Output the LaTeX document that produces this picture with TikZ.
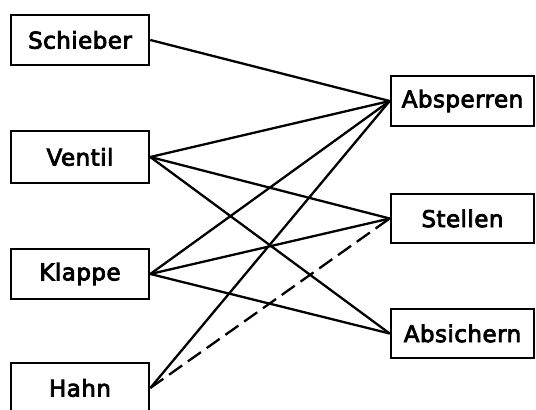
\documentclass[tikz,border=0pt]{standalone}
\usepackage{fontspec}
\setmainfont{DejaVu Sans}[FakeBold=3.5,LetterSpace=2]
\begin{document}
\begin{tikzpicture}[x=1pt,y=-1pt,
  box/.style={draw,line width=2.6pt,rectangle,inner sep=0pt,minimum height=50pt,font=\fontsize{23}{28}\selectfont},
  lbox/.style={box,minimum width=138pt},
  rbox/.style={box,minimum width=143pt},
  link/.style={line width=2.3pt},
  dlink/.style={link,dash pattern=on 16pt off 7pt}]
\useasboundingbox[fill=white] (0,0) rectangle (536,410);
\node[lbox] (schieber) at (80,40) {Schieber};
\node[lbox,minimum height=52pt] (ventil) at (80,157) {Ventil};
\node[lbox] (klappe) at (80,274) {Klappe};
\node[lbox] (hahn) at (80,388) {Hahn};
\node[rbox] (absperren) at (462.5,101) {Absperren};
\node[rbox,minimum height=49pt] (stellen) at (462.5,218.5) {Stellen};
\node[rbox,minimum height=49pt] (absichern) at (462.5,333.5) {Absichern};
\draw[link] (schieber.east) -- (absperren.west);
\draw[link] (ventil.east) -- (absperren.west);
\draw[link] (ventil.east) -- (stellen.west);
\draw[link] (ventil.east) -- (absichern.west);
\draw[link] (klappe.east) -- (absperren.west);
\draw[link] (klappe.east) -- (stellen.west);
\draw[link] (klappe.east) -- (absichern.west);
\draw[link] (hahn.east) -- (absperren.west);
\draw[dlink] (hahn.east) -- (stellen.west);
\end{tikzpicture}
\end{document}
